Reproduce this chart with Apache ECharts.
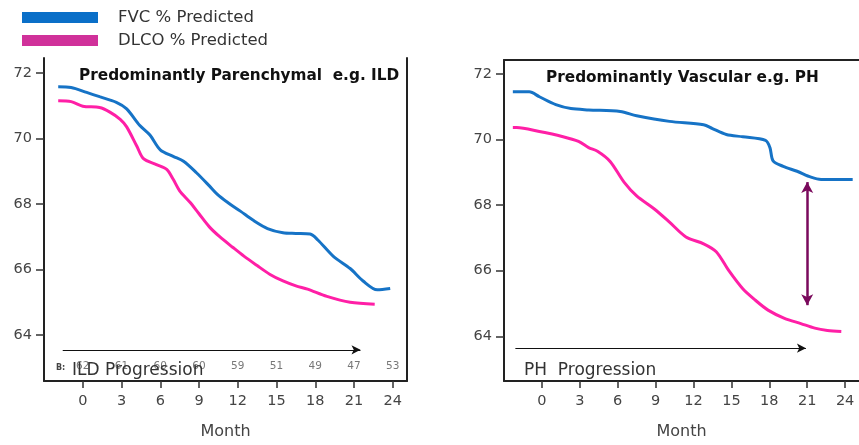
<!DOCTYPE html>
<html>
<head>
<meta charset="utf-8">
<script src="https://cdn.jsdelivr.net/npm/echarts@6/dist/echarts.min.js"></script>
<style>html,body{margin:0;padding:0;background:#fff}#c{width:859px;height:445px}</style>
</head>
<body>
<div id="c"></div>
<script>
// ---- Data ----
const tickMonths = [0, 3, 6, 9, 12, 15, 18, 21, 24];
const yTicks = [64, 66, 68, 70, 72];

// Left panel: Predominantly Parenchymal e.g. ILD
const ildFvcMonths = [-1.9, -0.9, 0.3, 1.3, 2.6, 3.4, 4.4, 5.2, 6.0, 7.0, 7.8, 8.8, 9.8, 10.4, 11.2, 12.2, 13.2, 14.3, 15.5, 16.5, 17.6, 18.2, 19.4, 20.7, 21.7, 22.8, 23.8];
const ildFvcValues = [71.57, 71.55, 71.4, 71.27, 71.1, 70.9, 70.4, 70.1, 69.65, 69.45, 69.3, 68.95, 68.55, 68.3, 68.05, 67.78, 67.5, 67.25, 67.12, 67.1, 67.08, 66.9, 66.4, 66.03, 65.65, 65.38, 65.42];
const ildDlcoMonths = [-1.9, -0.9, 0, 1.3, 2.1, 2.9, 3.4, 4.2, 4.7, 5.7, 6.5, 7.0, 7.5, 8.3, 9.0, 9.8, 10.6, 11.6, 12.5, 13.5, 14.5, 15.5, 16.5, 17.4, 18.9, 20.7, 22.6];
const ildDlcoValues = [71.15, 71.12, 70.98, 70.94, 70.8, 70.58, 70.35, 69.75, 69.38, 69.2, 69.05, 68.75, 68.4, 68.05, 67.7, 67.3, 67.0, 66.68, 66.4, 66.12, 65.85, 65.65, 65.5, 65.4, 65.18, 65.0, 64.94];
const ildRiskCounts = ['62', '61', '60', '60', '59', '51', '49', '47', '53'];
const ildRiskRow = 63.06;
const ildArrow = [[-1.55, 63.55], [21.5, 63.55]];

// Right panel: Predominantly Vascular e.g. PH
const phFvcMonths = [-2.3, -1.0, -0.2, 1.1, 2.3, 3.7, 6.2, 7.5, 10.1, 12.8, 13.5, 14.6, 15.9, 17.7, 18.05, 18.3, 19.1, 20.2, 21.3, 22.1, 24.6];
const phFvcValues = [71.45, 71.45, 71.3, 71.06, 70.94, 70.9, 70.85, 70.72, 70.55, 70.45, 70.33, 70.15, 70.08, 69.97, 69.75, 69.35, 69.18, 69.03, 68.85, 68.78, 68.78];
const phDlcoMonths = [-2.3, -2.0, -0.2, 1.6, 2.9, 3.7, 4.4, 5.4, 6.5, 7.5, 8.9, 10.1, 11.4, 12.8, 13.8, 14.8, 15.9, 16.9, 17.9, 19.2, 20.5, 21.6, 22.6, 23.7];
const phDlcoValues = [70.36, 70.36, 70.24, 70.09, 69.94, 69.75, 69.64, 69.33, 68.7, 68.28, 67.88, 67.48, 67.03, 66.82, 66.58, 66.0, 65.45, 65.1, 64.8, 64.55, 64.39, 64.25, 64.18, 64.15];
const phArrow = [[-2.1, 63.64], [20.9, 63.64]];
const phGapArrow = [[21, 68.7], [21, 64.95]];

// ---- Styling ----
const FONT = '"DejaVu Sans", sans-serif';
const BLUE = '#1673c6';
const PINK = '#ff1fa6';
const zip = (xs, ys) => xs.map((x, i) => [x, ys[i]]);

const chart = echarts.init(document.getElementById('c'), null, {renderer: 'canvas'});

function bottomX(grid) {
  return {
    gridIndex: grid, type: 'value', min: -3, max: 25.1, interval: 3,
    axisLine: {onZero: false, lineStyle: {color: '#222', width: 2}},
    axisTick: {customValues: tickMonths, length: 7, lineStyle: {color: '#333', width: 1.5}},
    axisLabel: {customValues: tickMonths, fontSize: 14.5, color: '#444', margin: 13, fontFamily: FONT},
    splitLine: {show: false},
    name: 'Month', nameLocation: 'middle', nameGap: 43,
    nameTextStyle: {fontSize: 16, color: '#444', fontFamily: FONT}
  };
}
function leftY(grid, ymin, ymax) {
  return {
    gridIndex: grid, type: 'value', min: ymin, max: ymax,
    axisLine: {show: true, onZero: false, lineStyle: {color: '#222', width: 2}},
    axisTick: {show: true, customValues: yTicks, length: 8, lineStyle: {color: '#333', width: 1.5}},
    axisLabel: {customValues: yTicks, fontSize: 14.5, color: '#444', margin: 12, fontFamily: FONT},
    splitLine: {show: false}
  };
}

const option = {
  animation: false,
  textStyle: {fontFamily: FONT},
  legend: {
    orient: 'vertical', left: 22, top: 9, padding: 0,
    itemWidth: 76, itemHeight: 11, itemGap: 6, icon: 'rect',
    textStyle: {fontSize: 16.5, color: '#333', fontFamily: FONT, padding: [0, 0, 0, 15]},
    data: [
      {name: 'FVC % Predicted', itemStyle: {color: '#0a6fc8'}},
      {name: 'DLCO % Predicted', itemStyle: {color: '#d0319a'}}
    ],
    selectedMode: false
  },
  title: [
    {text: 'Predominantly Parenchymal  e.g. ILD', left: 79, top: 69, padding: 0,
     textStyle: {fontSize: 15.3, fontWeight: 'bold', color: '#111', fontFamily: FONT}},
    {text: 'Predominantly Vascular e.g. PH', left: 546, top: 71, padding: 0,
     textStyle: {fontSize: 15.3, fontWeight: 'bold', color: '#111', fontFamily: FONT}},
    {text: 'B:', left: 56, top: 364, padding: 0,
     textStyle: {fontSize: 8, fontWeight: 'bold', color: '#444', fontFamily: FONT}},
    {text: 'ILD Progression', left: 72, top: 362, padding: 0,
     textStyle: {fontSize: 17, fontWeight: 'normal', color: '#333', fontFamily: FONT}},
    {text: 'PH  Progression', left: 524, top: 362, padding: 0,
     textStyle: {fontSize: 17, fontWeight: 'normal', color: '#333', fontFamily: FONT}}
  ],
  grid: [
    {left: 44, top: 58, width: 363, height: 325},
    {left: 504, top: 60, width: 361, height: 323}
  ],
  xAxis: [
    bottomX(0),
    bottomX(1),
    {gridIndex: 1, type: 'value', position: 'top', min: -3, max: 25.1,
     axisLine: {onZero: false, lineStyle: {color: '#222', width: 2}},
     axisTick: {show: false}, axisLabel: {show: false}, splitLine: {show: false}}
  ],
  yAxis: [
    leftY(0, 62.6, 72.45),
    {gridIndex: 0, type: 'value', position: 'right', min: 62.6, max: 72.45,
     axisLine: {show: true, onZero: false, lineStyle: {color: '#222', width: 2}},
     axisTick: {show: false}, axisLabel: {show: false}, splitLine: {show: false}},
    leftY(1, 62.64, 72.42)
  ],
  series: [
    {
      name: 'FVC % Predicted', type: 'line', xAxisIndex: 0, yAxisIndex: 0,
      data: zip(ildFvcMonths, ildFvcValues), showSymbol: false, smooth: 0.3,
      lineStyle: {color: BLUE, width: 3}, itemStyle: {color: BLUE},
      markLine: {
        silent: true, symbol: ['none', 'arrow'], symbolSize: [7, 9],
        lineStyle: {color: '#111', width: 1, type: 'solid'}, label: {show: false},
        data: [[{coord: ildArrow[0]}, {coord: ildArrow[1]}]]
      }
    },
    {
      name: 'DLCO % Predicted', type: 'line', xAxisIndex: 0, yAxisIndex: 0,
      data: zip(ildDlcoMonths, ildDlcoValues), showSymbol: false, smooth: 0.3,
      lineStyle: {color: PINK, width: 3}, itemStyle: {color: PINK}
    },
    {
      name: 'risk', type: 'scatter', xAxisIndex: 0, yAxisIndex: 0, symbolSize: 0,
      data: tickMonths.map((m, i) => [m, ildRiskRow, ildRiskCounts[i]]),
      label: {show: true, position: 'inside', formatter: p => p.data[2], fontSize: 10.5, color: '#555', fontFamily: FONT},
      silent: true
    },
    {
      name: 'FVC % Predicted', type: 'line', xAxisIndex: 1, yAxisIndex: 2,
      data: zip(phFvcMonths, phFvcValues), showSymbol: false, smooth: 0.3,
      lineStyle: {color: BLUE, width: 3}, itemStyle: {color: BLUE},
      markLine: {
        silent: true, symbolSize: [7, 9], label: {show: false},
        data: [
          [{coord: phArrow[0], symbol: 'none', lineStyle: {color: '#111', width: 1, type: 'solid'}},
           {coord: phArrow[1], symbol: 'arrow'}],
          [{coord: phGapArrow[0], symbol: 'arrow', symbolSize: [9, 11], lineStyle: {color: '#7a0a5c', width: 2.5, type: 'solid'}},
           {coord: phGapArrow[1], symbol: 'arrow', symbolSize: [9, 11]}]
        ]
      }
    },
    {
      name: 'DLCO % Predicted', type: 'line', xAxisIndex: 1, yAxisIndex: 2,
      data: zip(phDlcoMonths, phDlcoValues), showSymbol: false, smooth: 0.3,
      lineStyle: {color: PINK, width: 3}, itemStyle: {color: PINK}
    }
  ]
};
chart.setOption(option);
</script>
</body>
</html>
